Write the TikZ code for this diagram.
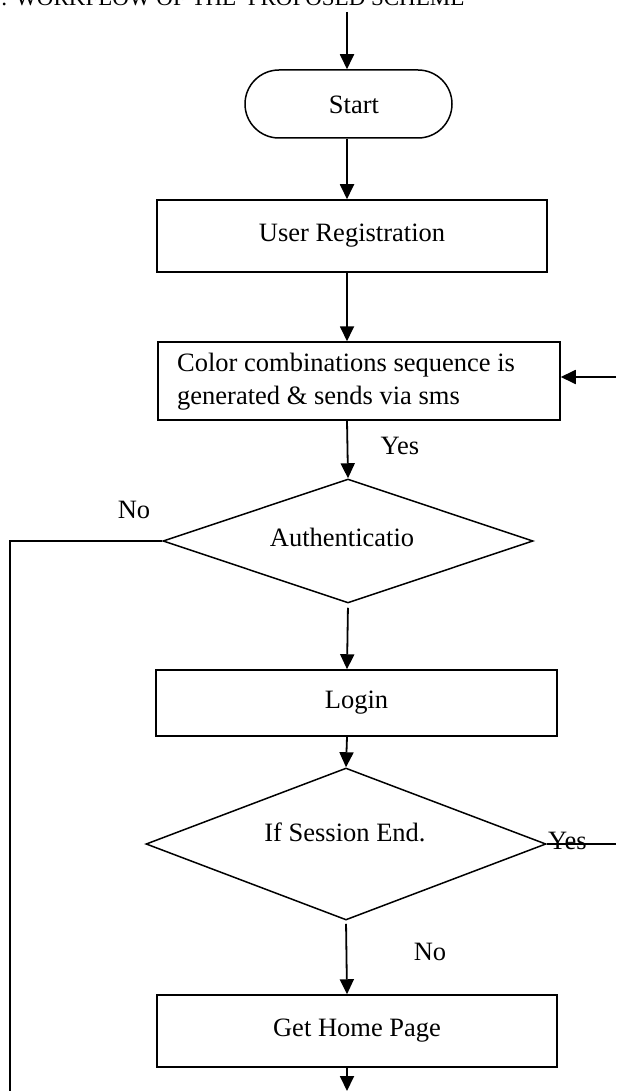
\documentclass[tikz,border=0pt]{standalone}
\usepackage{fontspec}
\setmainfont{Liberation Serif}
\usetikzlibrary{shapes.geometric,shapes.misc,arrows.meta}
\begin{document}
\begin{tikzpicture}[x=1pt,y=-1pt,
  every node/.style={font=\fontsize{26.5}{33}\selectfont},
  boxed/.style={draw, line width=1.5pt, inner sep=0pt},
  dia/.style={draw, line width=1.5pt, shape=diamond, aspect=3, inner sep=0pt},
  term/.style={draw, line width=1.5pt, shape=rounded rectangle, inner sep=0pt},
  arr/.style={line width=1.8pt, -{Triangle[length=15pt,width=14pt]}},
  lin/.style={line width=1.5pt}]
\useasboundingbox (0,0) rectangle (616,1091);
\clip (0,0) rectangle (616,1091);
\fill[white] (0,0) rectangle (616,1091);

% title (cut at top)
\node[anchor=base west, inner sep=0pt, font=\fontsize{23}{26}\selectfont] (title) at (1,6) {: WORKFLOW OF THE\ \ PROPOSED SCHEME};

\coordinate (spine) at (347,0);
\coordinate (top) at (347,12);
\coordinate (fbR) at (616,377);
\coordinate (nobot) at (10,1095);
\coordinate (bot) at (347,1091);

\node[term, minimum width=207pt, minimum height=68pt] (start) at (348.5,104) {};
\node (starttxt) at (354,105) {Start};

\node[boxed, minimum width=390pt, minimum height=72pt] (userreg) at (352,236) {User Registration};

\node[boxed, minimum width=402pt, minimum height=78pt] (color) at (359,381) {};
\node[align=left, anchor=west, inner sep=0pt] (colortxt) at (177,382)
  {Color combinations sequence is\\ generated \& sends via sms};

\node[dia, minimum width=370pt, minimum height=124pt] (auth) at (348,541) {};
\node (authtxt) at (342,537) {Authenticatio};

\node[boxed, minimum width=401pt, minimum height=66pt] (login) at (356.5,703) {Login};

\node[dia, minimum width=400pt, minimum height=152pt] (sess) at (346,844) {};
\node (sesstxt) at (345,832) {If Session End.};

\node[boxed, minimum width=400pt, minimum height=72pt] (home) at (357,1031) {Get Home Page};

% connectors
\draw[arr] (top) -- (top |- start.north);
\draw[arr] (start.south -| spine) -- (userreg.north -| spine);
\draw[arr] (userreg.south -| spine) -- (color.north -| spine);
\draw[arr] (color.south -| spine) -- (auth.north);
\node (yes1) at (400,446) {Yes};
\draw[arr] (fbR) -- (fbR -| color.east);
\draw[lin] (auth.west) -| (nobot);
\node (no1) at (134,510) {No};
\draw[arr, shorten <=4pt] (auth.south) -- (login.north -| spine);
\draw[arr] (login.south -| spine) -- (sess.north);
\draw[lin] (sess.east) -- (sess.east -| fbR);
\node[anchor=base west, inner sep=0pt] (yes2) at (548,849) {Yes};
\draw[arr, shorten <=3pt] (sess.south) -- (home.north -| spine);
\node (no2) at (430,952) {No};
\draw[arr] (home.south -| spine) -- (bot);
\end{tikzpicture}
\end{document}
